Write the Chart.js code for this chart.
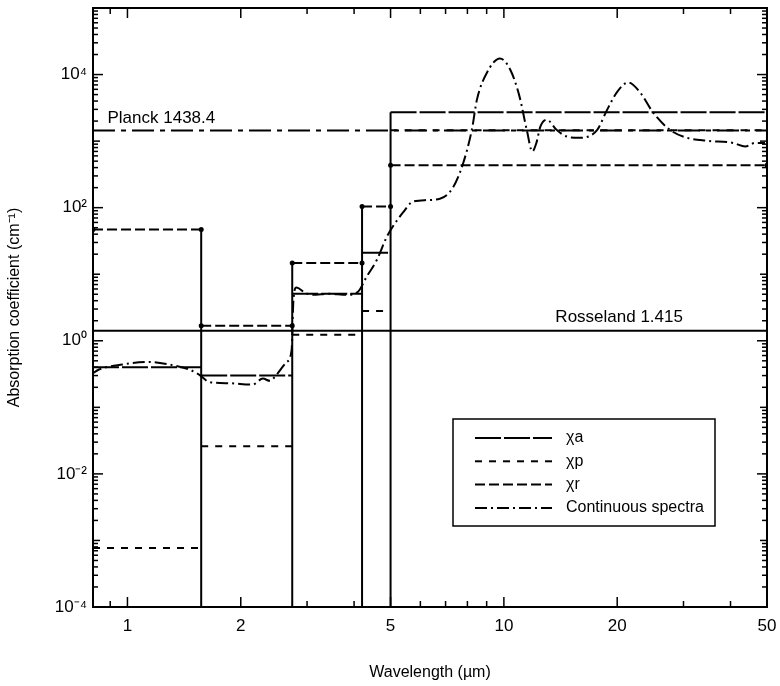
<!DOCTYPE html>
<html lang="en">
<head>
<meta charset="UTF-8">
<title>Absorption coefficient vs wavelength</title>
<script src="https://cdn.jsdelivr.net/npm/chart.js"></script>
<style>
    body { margin: 0; background: #fff; }
    #wrap { width: 780px; height: 686px; }
</style>
</head>
<body>
<div id="wrap"><canvas id="absChart"></canvas></div>
<script>
// band edges (micrometres) and band mean coefficients (cm^-1)
const bandEdges = [0.81, 1.57, 2.74, 4.2, 5.0, 50];
const chiA = [0.40, 0.30, 5.1, 21, 2710];
const chiP = [0.00077, 0.026, 1.23, 2.8, 1450];
const chiR = [47, 1.68, 14.7, 104, 433];

const planckMean = 1438.4;
const rosselandMean = 1.415;

// continuous spectrum
const specWavelength = [0.80, 0.84, 0.97, 1.14, 1.29, 1.46, 1.55, 1.65, 1.87, 2.15, 2.29, 2.39, 2.49, 2.65, 2.73,
    2.76, 2.81, 2.96, 3.10, 3.44, 3.82, 4.09, 4.32, 4.60, 4.88, 5.07, 5.39, 5.73, 6.24, 6.76, 7.32, 7.78,
    8.22, 8.48, 9.01, 9.76, 10.4, 11.0, 11.5, 11.9, 12.2, 12.5, 13.0, 13.8, 14.7, 15.9, 17.7, 18.8, 20.0,
    21.4, 23.0, 24.9, 27.6, 30.7, 34.7, 40.6, 43.8, 46.5, 49.4];
const specValue = [0.31, 0.37, 0.44, 0.48, 0.44, 0.37, 0.31, 0.24, 0.23, 0.22, 0.27, 0.25, 0.31, 0.48, 0.73,
    4.1, 6.3, 5.3, 4.9, 5.1, 4.9, 5.4, 9.2, 16.5, 36, 52, 84, 123, 130, 136, 200, 450,
    1480, 4200, 10600, 17500, 11800, 4700, 1480, 700, 940, 1650, 2100, 1480, 1170, 1120, 1480, 2950, 5500,
    7600, 5400, 2700, 1480, 1120, 1010, 940, 830, 940, 940];

const xTickValues = [1, 2, 5, 10, 20, 50];
const xMinorValues = [0.9, 3, 4, 6, 7, 8, 9, 30, 40];
const yTickPowers = [-4, -2, 0, 2, 4];

const FONT = "'Liberation Sans', Arial, sans-serif";
const SUP = {'-': '\u207B', '0': '\u2070', '1': '\u00B9', '2': '\u00B2', '3': '\u00B3', '4': '\u2074',
    '5': '\u2075', '6': '\u2076', '7': '\u2077', '8': '\u2078', '9': '\u2079'};

function steps(values) {
    const pts = [];
    values.forEach((v, i) => {
        pts.push({x: bandEdges[i], y: v}, {x: bandEdges[i + 1], y: v}, {x: bandEdges[i + 1], y: null});
    });
    return pts;
}

// vertical band boundaries run from the highest neighbouring step down to the axis
const boundaryPts = [];
for (let i = 1; i < bandEdges.length - 1; i++) {
    const top = Math.max(chiA[i - 1], chiA[i], chiP[i - 1], chiP[i], chiR[i - 1], chiR[i]);
    boundaryPts.push({x: bandEdges[i], y: top}, {x: bandEdges[i], y: 1e-4}, {x: bandEdges[i], y: null});
}

const spectrum = specWavelength.map((w, i) => ({x: w, y: specValue[i]}));

const frameTicks = {
    id: 'frameTicks',
    afterDatasetsDraw(chart) {
        const {ctx, chartArea: a, scales: {x, y}} = chart;
        ctx.save();
        ctx.strokeStyle = '#000';
        ctx.lineWidth = 1.5;
        const mark = (x1, y1, x2, y2) => { ctx.beginPath(); ctx.moveTo(x1, y1); ctx.lineTo(x2, y2); ctx.stroke(); };
        const xt = (v, len) => {
            const px = x.getPixelForValue(v);
            mark(px, a.bottom, px, a.bottom - len);
            mark(px, a.top, px, a.top + len);
        };
        xTickValues.forEach(v => xt(v, 10));
        xMinorValues.forEach(v => xt(v, 6));
        const yt = (v, len) => {
            const py = y.getPixelForValue(v);
            mark(a.left, py, a.left + len, py);
            mark(a.right, py, a.right - len, py);
        };
        for (let p = -4; p <= 5; p++) {
            yt(Math.pow(10, p), p % 2 === 0 ? 10 : 7);
            if (p < 5) for (let k = 2; k <= 9; k++) yt(k * Math.pow(10, p), 5);
        }
        ctx.lineWidth = 2;
        ctx.strokeRect(a.left, a.top, a.right - a.left, a.bottom - a.top);

        // mean value labels
        ctx.fillStyle = '#000';
        ctx.font = '17px ' + FONT;
        ctx.textBaseline = 'alphabetic';
        ctx.fillText('Planck ' + planckMean, x.getPixelForValue(0.885), y.getPixelForValue(planckMean) - 8);
        ctx.fillText('Rosseland ' + rosselandMean, x.getPixelForValue(13.7), y.getPixelForValue(rosselandMean) - 9);
        ctx.restore();
    }
};

const legendBox = {
    id: 'legendBox',
    afterDraw(chart) {
        const {ctx} = chart;
        const items = chart.data.datasets.filter(ds => ds.inLegend);
        ctx.save();
        ctx.fillStyle = '#fff';
        ctx.fillRect(453, 419, 262, 107);
        ctx.strokeStyle = '#000';
        ctx.lineWidth = 1.5;
        ctx.strokeRect(453, 419, 262, 107);
        items.forEach((ds, i) => {
            const yy = 438 + i * 23.3;
            ctx.setLineDash(ds.borderDash || []);
            ctx.lineWidth = 2;
            ctx.beginPath();
            ctx.moveTo(475, yy);
            ctx.lineTo(552, yy);
            ctx.stroke();
            ctx.setLineDash([]);
            ctx.fillStyle = '#000';
            ctx.font = '16px ' + FONT;
            ctx.textBaseline = 'middle';
            ctx.fillText(ds.label, 566, yy);
        });
        ctx.restore();
    }
};

const base = {borderColor: '#000', backgroundColor: '#000', borderWidth: 2, pointRadius: 0, fill: false, spanGaps: false};

new Chart(document.getElementById('absChart'), {
    type: 'line',
    data: {
        datasets: [
            Object.assign({}, base, {label: '\u03C7a', inLegend: true, data: steps(chiA), borderDash: [26, 3]}),
            Object.assign({}, base, {label: '\u03C7p', inLegend: true, data: steps(chiP), borderDash: [7, 7]}),
            Object.assign({}, base, {label: '\u03C7r', inLegend: true, data: steps(chiR), borderDash: [10, 4],
                pointRadius: 2.5, pointBorderWidth: 0}),
            Object.assign({}, base, {label: 'Continuous spectra', inLegend: true, data: spectrum,
                borderDash: [12, 4, 2, 4], cubicInterpolationMode: 'monotone'}),
            Object.assign({}, base, {label: 'Planck', data: [{x: bandEdges[0], y: planckMean}, {x: 50, y: planckMean}],
                borderDash: [22, 6, 5, 6]}),
            Object.assign({}, base, {label: 'Rosseland', data: [{x: bandEdges[0], y: rosselandMean}, {x: 50, y: rosselandMean}]}),
            Object.assign({}, base, {label: 'bands', data: boundaryPts})
        ]
    },
    options: {
        responsive: true,
        maintainAspectRatio: false,
        animation: false,
        layout: {padding: {top: 8, right: 13, left: 0, bottom: 0}},
        plugins: {legend: {display: false}, tooltip: {enabled: false}},
        scales: {
            x: {
                type: 'logarithmic',
                min: bandEdges[0],
                max: 50,
                afterBuildTicks: s => { s.ticks = xTickValues.map(v => ({value: v})); },
                afterFit: s => { s.height = 79; s.paddingLeft = 0; s.paddingRight = 0; },
                grid: {display: false, drawTicks: false},
                border: {display: false},
                ticks: {color: '#000', font: {family: FONT, size: 17}, padding: 9, maxRotation: 0,
                    autoSkip: false, callback: v => String(v)},
                title: {display: true, text: 'Wavelength (\u00B5m)', color: '#000',
                    font: {family: FONT, size: 16}, padding: {top: 4, bottom: 4}}
            },
            y: {
                type: 'logarithmic',
                min: 1e-4,
                max: 1e5,
                afterBuildTicks: s => { s.ticks = yTickPowers.map(p => ({value: Math.pow(10, p)})); },
                afterFit: s => { s.width = 93; s.paddingTop = 0; s.paddingBottom = 0; },
                grid: {display: false, drawTicks: false},
                border: {display: false},
                ticks: {color: '#000', font: {family: FONT, size: 17}, padding: 6, autoSkip: false,
                    callback: v => '10' + String(Math.round(Math.log10(v))).split('').map(c => SUP[c]).join('')},
                title: {display: true, text: 'Absorption coefficient (cm\u207B\u00B9)', color: '#000',
                    font: {family: FONT, size: 16}, padding: {top: 5, bottom: 5}}
            }
        }
    },
    plugins: [frameTicks, legendBox]
});
</script>
</body>
</html>
